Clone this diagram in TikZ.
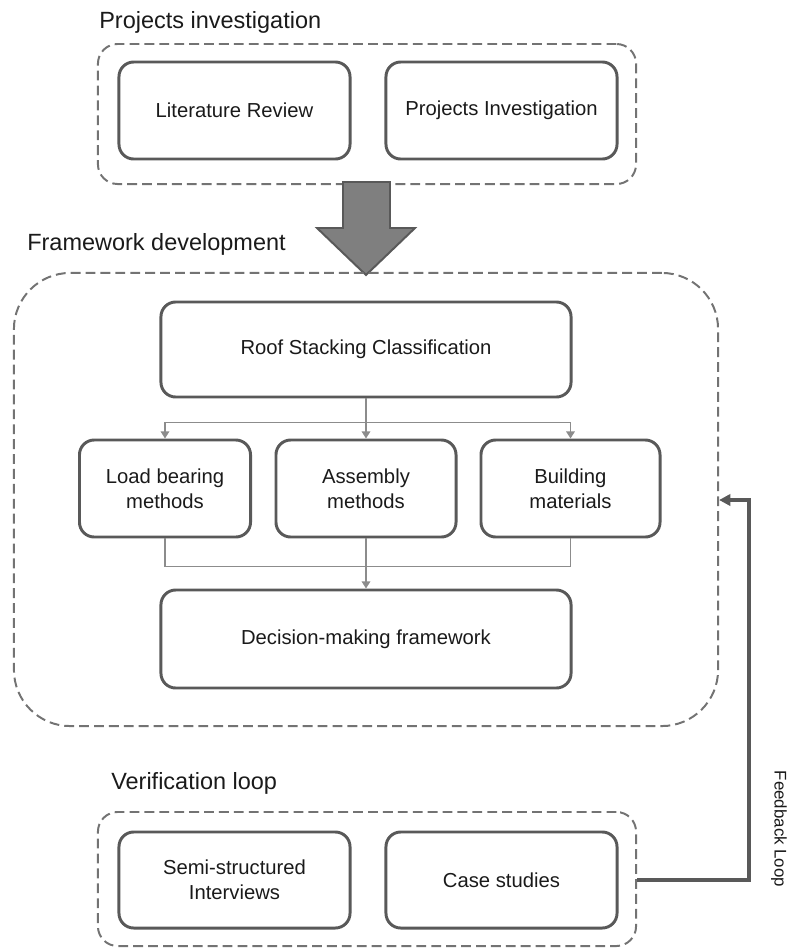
\documentclass[tikz,border=0pt]{standalone}
\usepackage{fontspec}
\setmainfont{Liberation Sans}
\usetikzlibrary{arrows.meta,positioning,calc}
\definecolor{boxline}{HTML}{595959}
\definecolor{dashline}{HTML}{737373}
\definecolor{linkline}{HTML}{8C8C8C}
\definecolor{bigfill}{HTML}{7F7F7F}
\definecolor{textcol}{HTML}{1A1A1A}

\begin{document}
\begin{tikzpicture}[x=0.025cm, y=-0.025cm, text=textcol,
  >={Triangle[width=6pt,length=5pt]},
  block/.style={draw=boxline, line width=2.1pt, rounded corners=10.5pt, align=center,
    inner sep=0pt, font=\fontsize{14.4}{17.5}\selectfont},
  group/.style={draw=dashline, line width=1.4pt, dash pattern=on 7pt off 3.6pt, inner sep=0pt},
  grouptitle/.style={anchor=base west, inner sep=0pt, font=\fontsize{16.7}{20}\selectfont},
  link/.style={draw=linkline, line width=1.1pt},
  feedback/.style={draw=boxline, line width=2.6pt, -{Triangle[width=8pt,length=8pt]}}]
\useasboundingbox (0,0) rectangle (787,949);

% Projects investigation
\node[grouptitle] (tproj) at (99,28) {Projects investigation};
\node[group, rounded corners=14pt, minimum width=13.45cm, minimum height=3.5cm] (projgroup) at (367,114) {};
\node[block, minimum width=5.775cm, minimum height=2.425cm] (lit) at (234.5,110.5) {Literature Review};
\node[block, minimum width=5.775cm, minimum height=2.425cm] (proj) at (501.5,110.5) {Projects Investigation};

% big arrow between the groups
\filldraw[fill=bigfill, draw=boxline, line width=1.4pt, line join=miter]
  (343,182) -- (390,182) -- (390,228) -- (415,228) -- (366,275) -- (317,228) -- (343,228) -- cycle;

% Framework development
\node[grouptitle] (tframe) at (27,250) {Framework development};
\node[group, rounded corners=40pt, minimum width=17.6cm, minimum height=11.325cm] (frame) at (366,499.5) {};
\node[block, minimum width=10.25cm, minimum height=2.375cm] (roof) at (366,349.5) {Roof Stacking Classification};
\node[block, minimum width=4.275cm, minimum height=2.425cm] (load) at (165,488.5) {Load bearing\\methods};
\node[block, minimum width=4.5cm, minimum height=2.425cm] (asm) at (366,488.5) {Assembly\\methods};
\node[block, minimum width=4.475cm, minimum height=2.425cm] (mat) at (570.5,488.5) {Building\\materials};
\node[block, minimum width=10.25cm, minimum height=2.45cm] (dec) at (366,639) {Decision-making framework};

\draw[link,->] (roof) -- (asm);
\draw[link,->] (roof.south) -- ++(0,24) -| (load.north);
\draw[link,->] (roof.south) -- ++(0,24) -| (mat.north);
\draw[link] (load.south) -- ++(0,28) -| (mat.south);
\draw[link,->] (asm) -- (dec);

% Verification loop
\node[grouptitle] (tverif) at (111,789) {Verification loop};
\node[group, rounded corners=14pt, minimum width=13.45cm, minimum height=3.35cm] (verif) at (367,879) {};
\node[block, minimum width=5.775cm, minimum height=2.4cm] (semi) at (234.5,880) {Semi-structured\\Interviews};
\node[block, minimum width=5.775cm, minimum height=2.4cm] (case) at (501.5,880) {Case studies};

% feedback back into the framework
\coordinate (fbturn) at (749,500);
\draw[feedback] (verif.east |- case.east) -| (fbturn) -- (frame.east |- fbturn);
\node[rotate=-90, inner sep=0pt, font=\fontsize{12}{14}\selectfont] (tfeed) at (779,829) {Feedback Loop};
\end{tikzpicture}
\end{document}
